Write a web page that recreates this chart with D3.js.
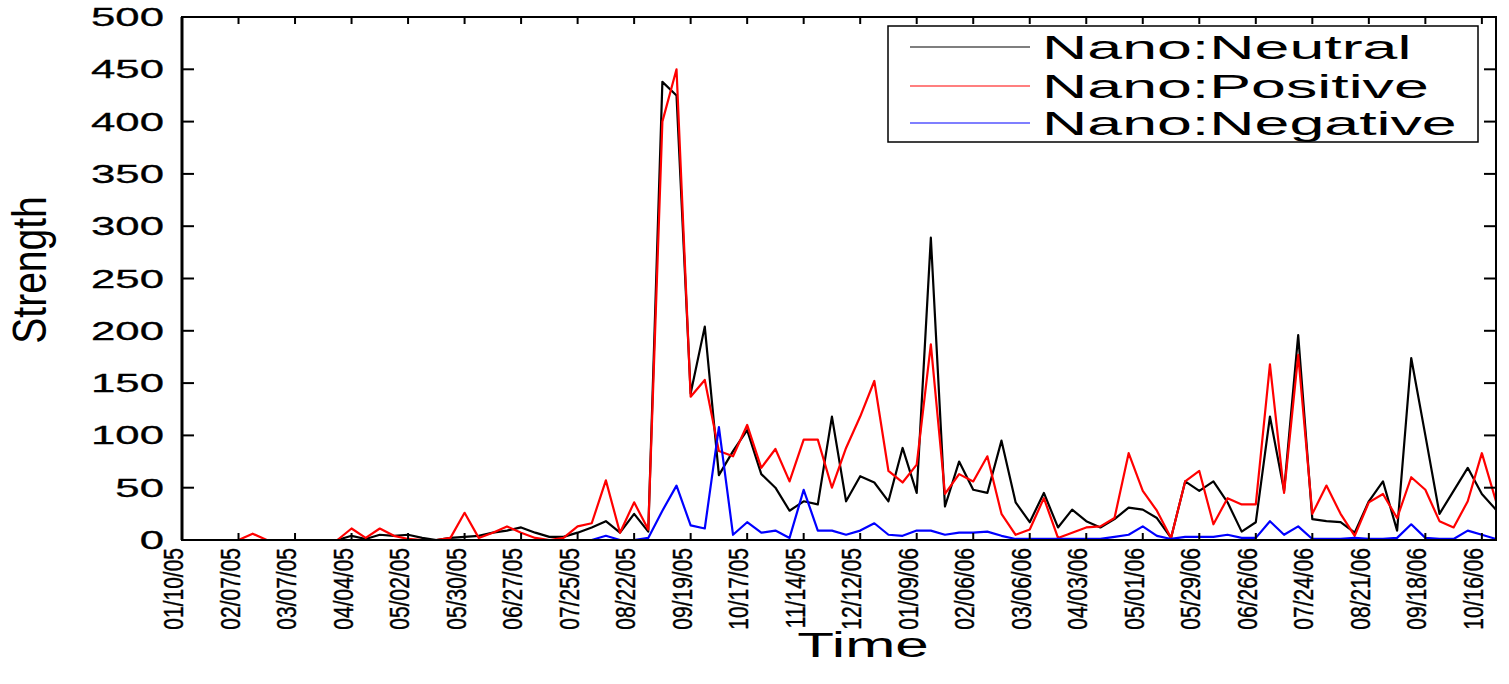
<!DOCTYPE html>
<html>
<head>
<meta charset="utf-8">
<script src="https://cdn.jsdelivr.net/npm/d3@7"></script>
<style>
  html, body { margin: 0; padding: 0; background: #fff; }
  svg { display: block; }
  text { font-family: "Liberation Sans", Arial, Helvetica, sans-serif; fill: #000; }
</style>
</head>
<body>
<script>
// weekly series, first week 01/10/05
const startDate = "01/10/05";
const endDate = "10/23/06";

const neutral = [
  0, 0, 0, 0, 0, 0, 0, 0, 0, 0, 0, 0, 4, 1, 5, 4, 5, 2, 0, 2,
  3, 4, 7, 9, 12, 7, 3, 3, 7, 12, 18, 7, 25, 8, 438, 425, 140, 204, 62, 85,
  105, 63, 50, 28, 37, 34, 118, 37, 61, 55, 37, 88, 45, 289, 32, 75, 48, 45, 95, 36,
  17, 45, 12, 29, 18, 12, 20, 31, 29, 21, 2, 56, 47, 56, 36, 8, 17, 118, 47, 196,
  20, 18, 17, 7, 37, 56, 9, 174, 100, 25, 47, 69, 44, 29
];
const positive = [
  0, 0, 0, 0, 0, 6, 0, 0, 0, 0, 0, 0, 11, 2, 11, 4, 1, 0, 0, 2,
  26, 2, 7, 13, 7, 2, 0, 2, 13, 16, 57, 7, 36, 10, 400, 450, 137, 153, 85, 80,
  110, 69, 87, 56, 96, 96, 50, 88, 118, 152, 66, 55, 72, 187, 44, 63, 56, 80, 25, 5,
  10, 40, 2, 7, 12, 13, 21, 83, 47, 28, 2, 56, 66, 15, 40, 34, 34, 168, 45, 177,
  25, 52, 25, 4, 36, 44, 21, 60, 48, 18, 12, 37, 83, 37
];
const negative = [
  0, 0, 0, 0, 0, 0, 0, 0, 0, 0, 0, 0, 0, 0, 0, 0, 0, 0, 0, 0,
  0, 0, 0, 0, 0, 0, 0, 0, 0, 0, 4, 0, 0, 2, 28, 52, 14, 11, 108, 5,
  17, 7, 9, 2, 48, 9, 9, 5, 9, 16, 5, 4, 9, 9, 5, 7, 7, 8, 4, 1,
  1, 1, 1, 1, 1, 1, 3, 5, 13, 4, 1, 3, 3, 3, 5, 2, 2, 18, 5, 13,
  1, 1, 1, 2, 1, 1, 2, 15, 2, 1, 1, 9, 5, 1
];

const seriesNames = ["Nano:Neutral", "Nano:Positive", "Nano:Negative"];
const seriesColors = ["#000000", "#ff0000", "#0000ff"];

const xTickLabels = ["01/10/05", "02/07/05", "03/07/05", "04/04/05", "05/02/05", "05/30/05",
  "06/27/05", "07/25/05", "08/22/05", "09/19/05", "10/17/05", "11/14/05", "12/12/05",
  "01/09/06", "02/06/06", "03/06/06", "04/03/06", "05/01/06", "05/29/06", "06/26/06",
  "07/24/06", "08/21/06", "09/18/06", "10/16/06"];
const yTicks = [0, 50, 100, 150, 200, 250, 300, 350, 400, 450, 500];

const W = 1509, H = 684;
const plotL = 182, plotR = 1496, plotT = 17, plotB = 540;

const parse = d3.utcParse("%m/%d/%y");
const t0 = parse(startDate);
const dates = neutral.map((d, i) => d3.utcDay.offset(t0, i * 7));

const svg = d3.select("body").append("svg")
  .attr("width", W)
  .attr("height", H);

const x = d3.scaleUtc()
  .domain([t0, parse(endDate)])
  .range([plotL, plotR]);

const y = d3.scaleLinear()
  .domain([0, 500])
  .range([plotB, plotT]);

// lines
const line = d3.line()
  .x((d, i) => x(dates[i]))
  .y(d => y(d));

[neutral, positive, negative].forEach((s, k) => {
  svg.append("path")
    .datum(s)
    .attr("fill", "none")
    .attr("stroke", seriesColors[k])
    .attr("stroke-width", 2.2)
    .attr("stroke-linejoin", "round")
    .attr("d", line);
});

// frame with inward ticks
const axisG = svg.append("g").attr("stroke", "#000");
axisG.append("rect")
  .attr("x", plotL).attr("y", plotT)
  .attr("width", plotR - plotL).attr("height", plotB - plotT)
  .attr("fill", "none")
  .attr("stroke-width", 2);
axisG.append("line")
  .attr("x1", plotL).attr("x2", plotL).attr("y1", plotT).attr("y2", plotB)
  .attr("stroke-width", 3);

const xTicks = xTickLabels.map(parse);
xTicks.forEach(t => {
  const px = x(t);
  axisG.append("line").attr("x1", px).attr("x2", px).attr("y1", plotB).attr("y2", plotB - 7).attr("stroke-width", 2);
  axisG.append("line").attr("x1", px).attr("x2", px).attr("y1", plotT).attr("y2", plotT + 7).attr("stroke-width", 2);
});
yTicks.forEach(v => {
  const py = y(v);
  axisG.append("line").attr("x1", plotL).attr("x2", plotL + 12).attr("y1", py).attr("y2", py).attr("stroke-width", 2);
  axisG.append("line").attr("x1", plotR).attr("x2", plotR - 12).attr("y1", py).attr("y2", py).attr("stroke-width", 2);
});

// y tick labels (stretched horizontally like the source image)
svg.append("g").selectAll("text")
  .data(yTicks)
  .join("text")
  .attr("transform", d => `translate(164,${y(d)}) scale(1.75,1)`)
  .attr("dy", "0.36em")
  .attr("text-anchor", "end")
  .style("font-size", "25px")
  .style("stroke", "#000")
  .style("stroke-width", "0.3px")
  .text(d => d);

// x tick labels, rotated
svg.append("g").selectAll("text")
  .data(xTickLabels)
  .join("text")
  .attr("transform", d => `translate(${x(parse(d)) + 1},548) scale(1.35,1) rotate(-90)`)
  .attr("text-anchor", "end")
  .style("font-size", "21px")
  .style("stroke", "#000")
  .style("stroke-width", "0.3px")
  .text(d => d);

// axis titles
svg.append("text")
  .attr("transform", "translate(863,657) scale(1.72,1)")
  .attr("text-anchor", "middle")
  .style("font-size", "35px")
  .text("Time");

svg.append("text")
  .attr("transform", "translate(46,270) scale(1.25,1) rotate(-90)")
  .attr("text-anchor", "middle")
  .style("font-size", "39px")
  .text("Strength");

// legend
const legend = svg.append("g");
legend.append("rect")
  .attr("x", 888).attr("y", 26)
  .attr("width", 590).attr("height", 116)
  .attr("fill", "#fff")
  .attr("stroke", "#000")
  .attr("stroke-width", 1.5);

const rowY = [47, 86, 123];
seriesNames.forEach((name, k) => {
  legend.append("line")
    .attr("x1", 910).attr("x2", 1030)
    .attr("y1", rowY[k]).attr("y2", rowY[k])
    .attr("stroke", seriesColors[k])
    .attr("stroke-width", 1.2);
  legend.append("text")
    .attr("transform", `translate(1042,${rowY[k] + 12}) scale(1.9,1)`)
    .style("font-size", "33px")
    .text(name);
});
</script>
</body>
</html>
